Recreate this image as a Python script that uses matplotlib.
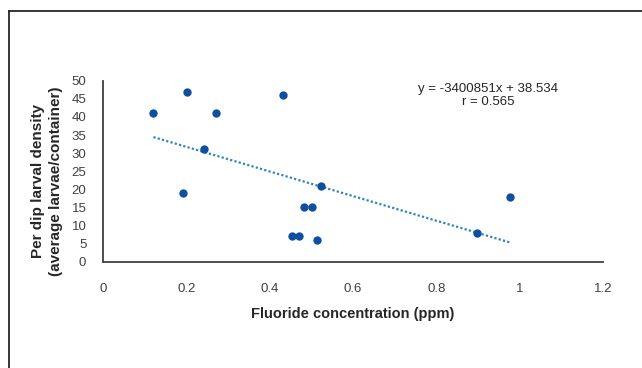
import matplotlib
matplotlib.use("Agg")
import matplotlib.pyplot as plt
import numpy as np
from matplotlib.lines import Line2D

plt.rcParams['font.family'] = ['Liberation Sans', 'DejaVu Sans']

fluoride = [0.121, 0.202, 0.272, 0.242, 0.191, 0.433, 0.523, 0.483, 0.502, 0.454, 0.471, 0.514, 0.897, 0.976]
density = [41, 47, 41, 31, 19, 46, 21, 15, 15, 7, 7, 6, 8, 18]
slope = -34.00851
intercept = 38.534
eq_text = "y = -3400851x + 38.534\nr = 0.565"
x_ticks = [0, 0.2, 0.4, 0.6, 0.8, 1, 1.2]
x_ticklabels = ["0", "0.2", "0.4", "0.6", "0.8", "1", "1.2"]
y_ticks = [0, 5, 10, 15, 20, 25, 30, 35, 40, 45, 50]

W, H = 642, 368
fig = plt.figure(figsize=(W / 100, H / 100), dpi=100)
ax = fig.add_axes([103 / W, (H - 261.7) / H, (603 - 103) / W, (261.7 - 80.7) / H])

ax.scatter(fluoride, density, s=36, color='#0E4FA0', zorder=3, linewidths=0)
xs = np.array([min(fluoride), max(fluoride)])
ax.plot(xs, slope * xs + intercept, linestyle=(0, (1, 1)), color='#2E86C1', lw=1.6, zorder=2)

ax.set_xlim(0, 1.2)
ax.set_ylim(0, 50)
ax.set_xticks(x_ticks)
ax.set_xticklabels(x_ticklabels)
ax.set_yticks(y_ticks)
ax.tick_params(length=0, labelsize=9.5, colors='#404040')
ax.tick_params(axis='x', pad=15)
ax.tick_params(axis='y', pad=12)
for s in ['top', 'right']:
    ax.spines[s].set_visible(False)
for s in ['left', 'bottom']:
    ax.spines[s].set_color('#404040')
    ax.spines[s].set_linewidth(1.3)

ax.set_xlabel("Fluoride concentration (ppm)", fontsize=10.5, fontweight='bold', color='#262626', labelpad=9)
ax.set_ylabel("Per dip larval density\n(average larvae/container)", fontsize=11, fontweight='bold', color='#262626', linespacing=1.35)
ax.yaxis.set_label_coords(-0.08, 0.445)

fig.text(488 / W, 1 - 95.5 / H, eq_text, ha='center', va='center', fontsize=9.5, color='#262626', linespacing=1.15)

fig.add_artist(Line2D([8.5 / W, 8.5 / W], [0, 1 - 10.5 / H], transform=fig.transFigure, color='#262626', lw=1.3))
fig.add_artist(Line2D([8.5 / W, 1], [1 - 10.5 / H, 1 - 10.5 / H], transform=fig.transFigure, color='#262626', lw=1.3))

fig.savefig("out.png", dpi=100)
